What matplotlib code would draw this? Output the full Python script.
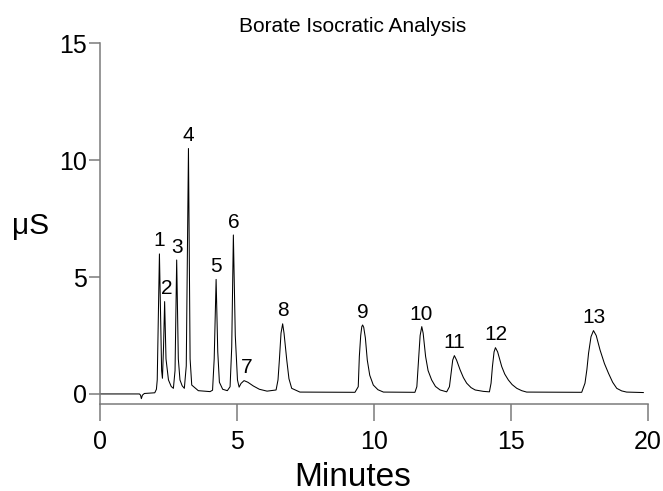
import matplotlib
matplotlib.use("Agg")
import matplotlib.pyplot as plt

plt.rcParams['font.family'] = ['Liberation Sans', 'DejaVu Sans']

# Trace: time (min) and conductivity (uS)
trace_time = [0.0, 1.44, 1.48, 1.51, 1.55, 1.62, 2.00, 2.06, 2.09, 2.17, 2.25, 2.28,
              2.32, 2.36, 2.41, 2.50, 2.60, 2.68, 2.74, 2.80, 2.86, 2.92, 3.00, 3.08,
              3.15, 3.23, 3.29, 3.35, 3.59, 4.02, 4.11, 4.17, 4.24, 4.30, 4.36, 4.48,
              4.65, 4.75, 4.81, 4.87, 4.94, 5.02, 5.08, 5.15, 5.26, 5.40, 5.60, 5.82,
              6.10, 6.43, 6.50, 6.55, 6.61, 6.67, 6.72, 6.82, 6.90, 7.00, 7.30,
              9.31, 9.43, 9.47, 9.52, 9.56, 9.59, 9.63, 9.69, 9.76, 9.85, 9.98, 10.15, 10.35,
              11.50, 11.57, 11.64, 11.69, 11.75, 11.80, 11.89, 11.98, 12.11, 12.25, 12.42, 12.66,
              12.76, 12.82, 12.88, 12.94, 13.02, 13.15, 13.27, 13.39, 13.55, 13.70, 14.00, 14.22,
              14.28, 14.33, 14.39, 14.44, 14.52, 14.67, 14.78, 14.91, 15.05, 15.22, 15.40, 15.58,
              17.59, 17.71, 17.78, 17.84, 17.93, 18.02, 18.12, 18.26, 18.42, 18.57, 18.72, 18.87,
              19.05, 19.23, 19.84]
trace_signal = [0.0, 0.0, -0.05, -0.20, -0.05, 0.02, 0.05, 0.20, 0.60, 5.99, 1.00, 0.67,
                2.00, 3.95, 1.50, 0.60, 0.32, 0.24, 1.00, 5.73, 1.50, 0.60, 0.35, 0.24,
                1.20, 10.50, 1.50, 0.38, 0.14, 0.10, 0.16, 1.50, 4.90, 1.80, 0.50, 0.20,
                0.14, 0.31, 2.00, 6.80, 2.50, 0.60, 0.29, 0.45, 0.57, 0.50, 0.34, 0.20,
                0.12, 0.17, 0.60, 1.45, 2.60, 3.00, 2.60, 1.45, 0.65, 0.24, 0.08,
                0.07, 0.31, 1.60, 2.50, 2.88, 2.95, 2.85, 2.40, 1.45, 0.80, 0.38, 0.18, 0.08,
                0.07, 0.31, 1.60, 2.50, 2.88, 2.60, 1.60, 1.00, 0.60, 0.32, 0.17, 0.09,
                0.31, 0.88, 1.45, 1.64, 1.45, 1.03, 0.70, 0.46, 0.27, 0.17, 0.11, 0.09,
                0.46, 1.17, 1.80, 1.98, 1.80, 1.17, 0.85, 0.60, 0.40, 0.24, 0.14, 0.08,
                0.07, 0.46, 1.05, 1.74, 2.45, 2.71, 2.50, 1.88, 1.30, 0.88, 0.50, 0.24,
                0.13, 0.08, 0.06]

# Peak labels (number, apex time, apex height)
peak_labels = ['1', '2', '3', '4', '5', '6', '7', '8', '9', '10', '11', '12', '13']
peak_times = [2.17, 2.42, 2.80, 3.23, 4.24, 4.87, 5.35, 6.67, 9.59, 11.71, 12.93, 14.46, 18.04]
peak_heights = [5.99, 3.95, 5.73, 10.5, 4.9, 6.8, 0.57, 3.0, 2.95, 2.85, 1.63, 1.98, 2.71]

x_ticks = [0, 5, 10, 15, 20]
y_ticks = [0, 5, 10, 15]

fig = plt.figure(figsize=(6.63, 4.91), dpi=100)
ax = fig.add_axes([100 / 663, 87 / 491, 547.7 / 663, 360.7 / 491])
ax.plot(trace_time, trace_signal, color='black', lw=0.75)

ax.set_xlim(0, 20)
ax.set_ylim(-0.43, 15)
ax.set_xticks(x_ticks)
ax.set_yticks(y_ticks)

spine_col = '#7a7a7a'
for s in ['top', 'right']:
    ax.spines[s].set_visible(False)
for s in ['left', 'bottom']:
    ax.spines[s].set_color(spine_col)
    ax.spines[s].set_linewidth(1.1)
ax.spines['left'].set_bounds(-0.43, 15)
ax.tick_params(axis='x', direction='out', length=12.2, width=1.1, color=spine_col,
               labelsize=18, pad=6.5)
ax.tick_params(axis='y', direction='out', length=7.9, width=1.1, color=spine_col,
               labelsize=18, pad=1.5)

for lab, t, h in zip(peak_labels, peak_times, peak_heights):
    ax.annotate(lab, (t, h), xytext=(0, 2.5), textcoords='offset points',
                ha='center', va='bottom', fontsize=15)

fig.text(353 / 663, 1 - 27 / 491, 'Borate Isocratic Analysis', ha='center', va='center',
         fontsize=15)
fig.text(31 / 663, 1 - 226 / 491, 'μS', ha='center', va='center', fontsize=21.5)
fig.text(353 / 663, 1 - 477 / 491, 'Minutes', ha='center', va='center', fontsize=24)

fig.savefig('out.png', dpi=100)
